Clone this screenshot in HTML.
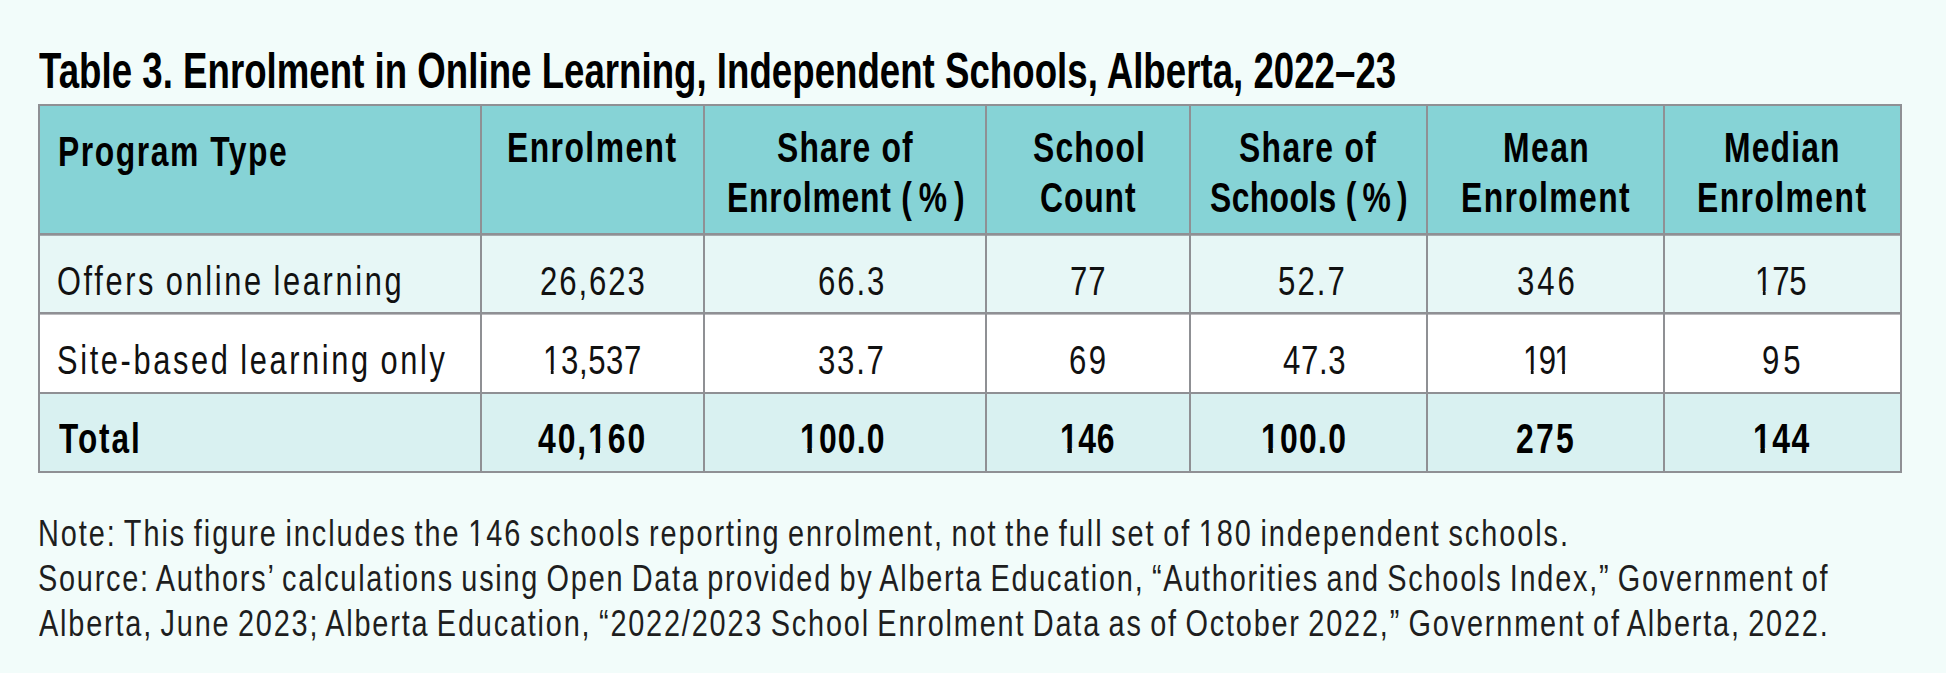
<!DOCTYPE html>
<html><head><meta charset="utf-8"><style>
html,body{margin:0;padding:0;}
body{width:1946px;height:673px;background:#f2fcfa;position:relative;overflow:hidden;font-family:"Liberation Sans",sans-serif;color:#000;}
.t{position:absolute;white-space:nowrap;line-height:0;transform-origin:0 0;}
.b{position:absolute;}
</style></head>
<body>
<div class="b" style="left:38px;top:104px;width:1864px;height:130px;background:#86d3d6"></div>
<div class="b" style="left:38px;top:234px;width:1864px;height:80px;background:#e7f7f6"></div>
<div class="b" style="left:38px;top:313px;width:1864px;height:80px;background:#ffffff"></div>
<div class="b" style="left:38px;top:393px;width:1864px;height:80px;background:#d9f1f1"></div>
<div class="b" style="left:38px;top:104px;width:1864px;height:2px;background:#8f9094"></div>
<div class="b" style="left:38px;top:233px;width:1864px;height:2px;background:#8f9094"></div>
<div class="b" style="left:38px;top:312px;width:1864px;height:2px;background:#8f9094"></div>
<div class="b" style="left:38px;top:392px;width:1864px;height:2px;background:#8f9094"></div>
<div class="b" style="left:38px;top:471px;width:1864px;height:2px;background:#8f9094"></div>
<div class="b" style="left:38px;top:104px;width:2px;height:369px;background:#8f9094"></div>
<div class="b" style="left:480px;top:104px;width:2px;height:369px;background:#8f9094"></div>
<div class="b" style="left:703px;top:104px;width:2px;height:369px;background:#8f9094"></div>
<div class="b" style="left:985px;top:104px;width:2px;height:369px;background:#8f9094"></div>
<div class="b" style="left:1189px;top:104px;width:2px;height:369px;background:#8f9094"></div>
<div class="b" style="left:1426px;top:104px;width:2px;height:369px;background:#8f9094"></div>
<div class="b" style="left:1663px;top:104px;width:2px;height:369px;background:#8f9094"></div>
<div class="b" style="left:1900px;top:104px;width:2px;height:369px;background:#8f9094"></div>
<div class="b" style="left:38px;top:235px;width:1864px;height:1px;background:rgba(143,144,148,0.75)"></div>
<div class="b" style="left:38px;top:314px;width:1864px;height:1px;background:rgba(143,144,148,0.6)"></div>
<div class="t" style="left:39.40px;top:71px;font-size:50px;font-weight:700;letter-spacing:0.038px;color:#000;transform:scaleX(0.7323)">Table 3. Enrolment in Online Learning, Independent Schools, Alberta, 2022–23</div>
<div class="t" style="left:57.92px;top:151px;font-size:43px;font-weight:700;letter-spacing:2.108px;color:#000;transform:scaleX(0.7400)">Program Type</div>
<div class="t" style="left:506.52px;top:147px;font-size:43px;font-weight:700;letter-spacing:1.989px;color:#000;transform:scaleX(0.7400)">Enrolment</div>
<div class="t" style="left:776.66px;top:147px;font-size:43px;font-weight:700;letter-spacing:1.607px;color:#000;transform:scaleX(0.7400)">Share of</div>
<div class="t" style="left:727.12px;top:197px;font-size:43px;font-weight:700;letter-spacing:1.099px;color:#000;transform:scaleX(0.7400)">Enrolment ( % )</div>
<div class="t" style="left:1032.76px;top:147px;font-size:43px;font-weight:700;letter-spacing:1.581px;color:#000;transform:scaleX(0.7400)">School</div>
<div class="t" style="left:1040.26px;top:197px;font-size:43px;font-weight:700;letter-spacing:1.213px;color:#000;transform:scaleX(0.7400)">Count</div>
<div class="t" style="left:1239.26px;top:147px;font-size:43px;font-weight:700;letter-spacing:1.839px;color:#000;transform:scaleX(0.7400)">Share of</div>
<div class="t" style="left:1210.36px;top:197px;font-size:43px;font-weight:700;letter-spacing:0.543px;color:#000;transform:scaleX(0.7400)">Schools ( % )</div>
<div class="t" style="left:1502.92px;top:147px;font-size:43px;font-weight:700;letter-spacing:1.991px;color:#000;transform:scaleX(0.7400)">Mean</div>
<div class="t" style="left:1461.12px;top:197px;font-size:43px;font-weight:700;letter-spacing:1.904px;color:#000;transform:scaleX(0.7400)">Enrolment</div>
<div class="t" style="left:1723.52px;top:147px;font-size:43px;font-weight:700;letter-spacing:1.606px;color:#000;transform:scaleX(0.7400)">Median</div>
<div class="t" style="left:1697.42px;top:197px;font-size:43px;font-weight:700;letter-spacing:1.972px;color:#000;transform:scaleX(0.7400)">Enrolment</div>
<div class="t" style="left:57.05px;top:281px;font-size:41px;letter-spacing:3.541px;word-spacing:-2px;color:#111;transform:scaleX(0.7500)">Offers online learning</div>
<div class="t" style="left:539.98px;top:281px;font-size:41px;letter-spacing:2.496px;color:#111;transform:scaleX(0.7600)">26,623</div>
<div class="t" style="left:818.18px;top:281px;font-size:41px;letter-spacing:2.519px;color:#111;transform:scaleX(0.7600)">66.3</div>
<div class="t" style="left:1069.88px;top:281px;font-size:41px;letter-spacing:1.092px;color:#111;transform:scaleX(0.7600)">77</div>
<div class="t" style="left:1277.84px;top:281px;font-size:41px;letter-spacing:2.756px;color:#111;transform:scaleX(0.7600)">52.7</div>
<div class="t" style="left:1516.84px;top:281px;font-size:41px;letter-spacing:3.777px;color:#111;transform:scaleX(0.7600)">346</div>
<div class="t" style="left:1755.12px;top:281px;font-size:41px;letter-spacing:-0.197px;color:#111;transform:scaleX(0.7600)"><span style="clip-path:polygon(-20px -20px,60px -20px,60px 33.00px,13.93px 33.00px,13.93px 80px,10.31px 80px,10.31px 33.00px,-20px 33.00px)">1</span>75</div>
<div class="t" style="left:57.25px;top:360px;font-size:41px;letter-spacing:3.528px;word-spacing:-2px;color:#111;transform:scaleX(0.7500)">Site-based learning only</div>
<div class="t" style="left:543.12px;top:360px;font-size:41px;letter-spacing:0.801px;color:#111;transform:scaleX(0.7600)"><span style="clip-path:polygon(-20px -20px,60px -20px,60px 33.00px,13.93px 33.00px,13.93px 80px,10.31px 80px,10.31px 33.00px,-20px 33.00px)">1</span>3,537</div>
<div class="t" style="left:817.64px;top:360px;font-size:41px;letter-spacing:2.317px;color:#111;transform:scaleX(0.7600)">33.7</div>
<div class="t" style="left:1068.88px;top:360px;font-size:41px;letter-spacing:3.198px;color:#111;transform:scaleX(0.7600)">69</div>
<div class="t" style="left:1283.20px;top:360px;font-size:41px;letter-spacing:0.844px;color:#111;transform:scaleX(0.7600)">47.3</div>
<div class="t" style="left:1523.12px;top:360px;font-size:41px;letter-spacing:-2.197px;color:#111;transform:scaleX(0.7600)"><span style="clip-path:polygon(-20px -20px,60px -20px,60px 33.00px,13.93px 33.00px,13.93px 80px,10.31px 80px,10.31px 33.00px,-20px 33.00px)">1</span>9<span style="clip-path:polygon(-20px -20px,60px -20px,60px 33.00px,13.93px 33.00px,13.93px 80px,10.31px 80px,10.31px 33.00px,-20px 33.00px)">1</span></div>
<div class="t" style="left:1762.44px;top:360px;font-size:41px;letter-spacing:5.145px;color:#111;transform:scaleX(0.7600)">95</div>
<div class="t" style="left:59.00px;top:439px;font-size:42px;font-weight:700;letter-spacing:2.632px;color:#000;transform:scaleX(0.7500)">Total</div>
<div class="t" style="left:538.00px;top:439px;font-size:42px;font-weight:700;letter-spacing:2.527px;color:#000;transform:scaleX(0.7600)">40,<span style="clip-path:polygon(-20px -20px,60px -20px,60px 33.00px,15.57px 33.00px,15.57px 80px,9.80px 80px,9.80px 33.00px,-20px 33.00px)">1</span>60</div>
<div class="t" style="left:799.88px;top:439px;font-size:42px;font-weight:700;letter-spacing:1.538px;color:#000;transform:scaleX(0.7600)"><span style="clip-path:polygon(-20px -20px,60px -20px,60px 33.00px,15.57px 33.00px,15.57px 80px,9.80px 80px,9.80px 33.00px,-20px 33.00px)">1</span>00.0</div>
<div class="t" style="left:1060.38px;top:439px;font-size:42px;font-weight:700;letter-spacing:0.786px;color:#000;transform:scaleX(0.7600)"><span style="clip-path:polygon(-20px -20px,60px -20px,60px 33.00px,15.57px 33.00px,15.57px 80px,9.80px 80px,9.80px 33.00px,-20px 33.00px)">1</span>46</div>
<div class="t" style="left:1261.08px;top:439px;font-size:42px;font-weight:700;letter-spacing:1.669px;color:#000;transform:scaleX(0.7600)"><span style="clip-path:polygon(-20px -20px,60px -20px,60px 33.00px,15.57px 33.00px,15.57px 80px,9.80px 80px,9.80px 33.00px,-20px 33.00px)">1</span>00.0</div>
<div class="t" style="left:1516.44px;top:439px;font-size:42px;font-weight:700;letter-spacing:2.878px;color:#000;transform:scaleX(0.7600)">275</div>
<div class="t" style="left:1753.28px;top:439px;font-size:42px;font-weight:700;letter-spacing:1.957px;color:#000;transform:scaleX(0.7600)"><span style="clip-path:polygon(-20px -20px,60px -20px,60px 33.00px,15.57px 33.00px,15.57px 80px,9.80px 80px,9.80px 33.00px,-20px 33.00px)">1</span>44</div>
<div class="t" style="left:38.26px;top:534px;font-size:37px;letter-spacing:2.505px;word-spacing:-3px;color:#1e1e1e;transform:scaleX(0.7800)">Note: This figure includes the <span style="clip-path:polygon(-20px -20px,60px -20px,60px 30.00px,12.57px 30.00px,12.57px 80px,9.30px 80px,9.30px 30.00px,-20px 30.00px)">1</span>46 schools reporting enrolment, not the full set of <span style="clip-path:polygon(-20px -20px,60px -20px,60px 30.00px,12.57px 30.00px,12.57px 80px,9.30px 80px,9.30px 30.00px,-20px 30.00px)">1</span>80 independent schools.</div>
<div class="t" style="left:38.22px;top:579px;font-size:37px;letter-spacing:2.259px;word-spacing:-3px;color:#1e1e1e;transform:scaleX(0.7800)">Source: Authors’ calculations using Open Data provided by Alberta Education, “Authorities and Schools Index,” Government of</div>
<div class="t" style="left:39.20px;top:624px;font-size:37px;letter-spacing:2.336px;word-spacing:-3px;color:#1e1e1e;transform:scaleX(0.7800)">Alberta, June 2023; Alberta Education, “2022/2023 School Enrolment Data as of October 2022,” Government of Alberta, 2022.</div>
</body></html>
